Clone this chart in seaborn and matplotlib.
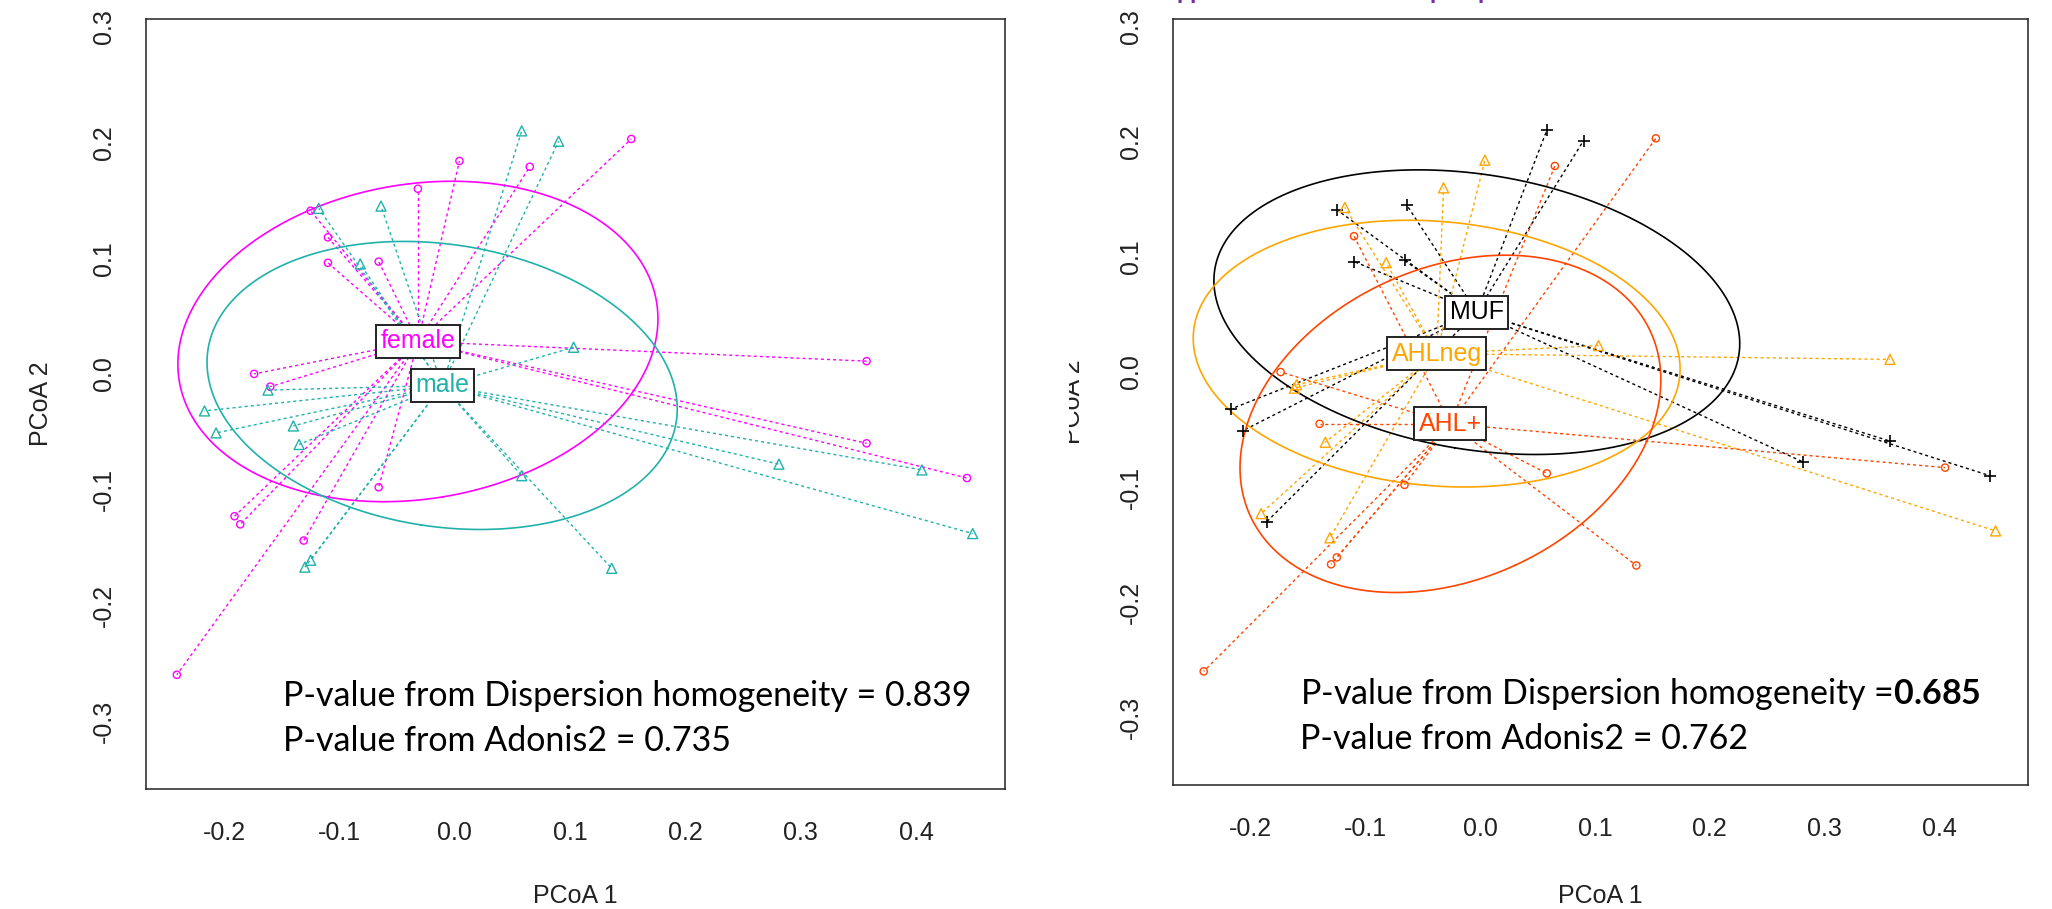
import matplotlib
matplotlib.use('Agg')
import matplotlib.pyplot as plt
from matplotlib.patches import Rectangle
import numpy as np
import pandas as pd
import seaborn as sns

# PCoA site scores (36 samples)
pcoa1 = [0.153, 0.004, 0.065, -0.032, -0.125, -0.110, -0.110, -0.066, -0.174,
         -0.160, 0.357, 0.357, 0.444, -0.066, -0.191, -0.186, -0.131, -0.241,
         0.058, 0.090, -0.118, -0.064, -0.082, 0.103, -0.162, -0.217, -0.207,
         -0.140, -0.135, 0.058, 0.281, 0.405, 0.449, -0.125, -0.130, 0.136]
pcoa2 = [0.203, 0.184, 0.179, 0.160, 0.141, 0.118, 0.096, 0.097, 0.000,
         -0.011, 0.011, -0.060, -0.090, -0.098, -0.123, -0.130, -0.144, -0.260,
         0.210, 0.201, 0.143, 0.145, 0.095, 0.023, -0.014, -0.032, -0.051,
         -0.045, -0.061, -0.088, -0.078, -0.083, -0.138, -0.161, -0.167, -0.168]
sex = ['female'] * 18 + ['male'] * 18
group = ['AHL+', 'AHLneg', 'AHL+', 'AHLneg', 'MUF', 'AHL+', 'MUF', 'MUF', 'AHL+',
         'AHLneg', 'AHLneg', 'MUF', 'MUF', 'AHL+', 'AHLneg', 'MUF', 'AHLneg', 'AHL+',
         'MUF', 'MUF', 'AHLneg', 'MUF', 'AHLneg', 'AHLneg', 'AHLneg', 'MUF', 'MUF',
         'AHL+', 'AHLneg', 'AHL+', 'MUF', 'AHL+', 'AHLneg', 'AHL+', 'AHL+', 'AHL+']

# group centroids (spatial medians from betadisper)
sex_levels = ['female', 'male']
sex_cent_x = [-0.032, -0.011]
sex_cent_y = [0.028, -0.010]
group_levels = ['MUF', 'AHLneg', 'AHL+']
group_cent_x = [-0.003, -0.038, -0.026]
group_cent_y = [0.052, 0.016, -0.045]

xticks = [-0.2, -0.1, 0.0, 0.1, 0.2, 0.3, 0.4]
yticks = [-0.3, -0.2, -0.1, 0.0, 0.1, 0.2, 0.3]

sex_pvals = ['P-value from Dispersion homogeneity = 0.839',
             'P-value from Adonis2 = 0.735']
group_pvals = [r'P-value from Dispersion homogeneity =$\mathbf{0.685}$',
               'P-value from Adonis2 = 0.762']

df = pd.DataFrame({'PCoA1': pcoa1, 'PCoA2': pcoa2, 'sex': sex, 'group': group})

sns.set_style('white')
plt.rcParams['font.family'] = ['Liberation Sans', 'DejaVu Sans']
plt.rcParams['mathtext.fontset'] = 'custom'
plt.rcParams['mathtext.rm'] = 'Lato'
plt.rcParams['mathtext.bf'] = 'Lato:bold'

W, H = 2052, 909
fig = plt.figure(figsize=(W / 100, H / 100), dpi=100)
fig.patch.set_facecolor('white')
ax1 = fig.add_axes([145.7 / W, 1 - 789 / H, (1005 - 145.7) / W, (789 - 19.3) / H])
ax2 = fig.add_axes([1172.7 / W, 1 - 785 / H, (2027.7 - 1172.7) / W, (785 - 19.3) / H])


def betadisper_panel(ax, col, levels, cx_list, cy_list, colours, markers, sizes):
    for lev, cx, cy in zip(levels, cx_list, cy_list):
        sub = df[df[col] == lev]
        c = colours[lev]
        for x, y in zip(sub.PCoA1, sub.PCoA2):
            ax.plot([cx, x], [cy, y], color=c, lw=1.0, ls=(0, (2.2, 2.2)), zorder=1)
        # standard deviation ellipse around the centroid
        d = sub[['PCoA1', 'PCoA2']].values - np.array([cx, cy])
        cov = d.T @ d / (len(d) - 1)
        w, v = np.linalg.eigh(cov)
        t = np.linspace(0, 2 * np.pi, 201)
        circ = np.column_stack([np.cos(t), np.sin(t)])
        ell = circ @ (v * np.sqrt(w)).T + np.array([cx, cy])
        ax.plot(ell[:, 0], ell[:, 1], color=c, lw=1.2, zorder=2)
    for lev in levels:
        sub = df[df[col] == lev]
        c = colours[lev]
        m = markers[lev]
        if m == '+':
            sns.scatterplot(data=sub, x='PCoA1', y='PCoA2', marker=m, color=c,
                            s=sizes[lev], linewidth=1.2, ax=ax, zorder=3)
        else:
            sns.scatterplot(data=sub, x='PCoA1', y='PCoA2', marker=m, color=c,
                            facecolor='none', edgecolor=c, s=sizes[lev],
                            linewidth=1.0, ax=ax, zorder=3)
    for lev, cx, cy in zip(levels, cx_list, cy_list):
        ax.text(cx, cy, lev, color=colours[lev], ha='center', va='center',
                fontsize=18, zorder=5,
                bbox=dict(boxstyle='square,pad=0.18', fc='white', ec='#222222', lw=1.4))

    ax.set_xlim(-0.268, 0.477)
    ax.set_ylim(-0.3587, 0.3064)
    ax.set_xticks(xticks, [f'{v:.1f}' for v in xticks])
    ax.set_yticks(yticks, [f'{v:.1f}' for v in yticks], rotation=90, va='center')
    ax.tick_params(axis='both', direction='out', length=10.8, width=1.1,
                   colors='#222222', labelsize=18, labelcolor='#222222')
    ax.tick_params(axis='x', pad=12)
    ax.tick_params(axis='y', pad=10.5)
    for sp in ax.spines.values():
        sp.set_color('#222222')
        sp.set_linewidth(1.1)
    ax.set_xlabel('PCoA 1', fontsize=18, color='#222222', va='center')
    ax.set_ylabel('PCoA 2', fontsize=18, color='#222222', va='center')


betadisper_panel(ax1, 'sex', sex_levels, sex_cent_x, sex_cent_y,
                 {'female': '#FF00FF', 'male': '#20B2AA'},
                 {'female': 'o', 'male': '^'},
                 {'female': 27, 'male': 52})
betadisper_panel(ax2, 'group', group_levels, group_cent_x, group_cent_y,
                 {'MUF': 'black', 'AHLneg': '#FFA500', 'AHL+': '#FF4500'},
                 {'MUF': '+', 'AHLneg': '^', 'AHL+': 'o'},
                 {'MUF': 80, 'AHLneg': 52, 'AHL+': 27})

ax1.xaxis.set_label_coords(0.5, -(896 - 789) / (789 - 19.3))
ax1.yaxis.set_label_coords(-(145.7 - 41) / (1005 - 145.7), 0.5)
ax2.xaxis.set_label_coords(0.5, -(896 - 785) / (785 - 19.3))
ax2.yaxis.set_label_coords(-(1172.7 - 1073) / (2027.7 - 1172.7), 0.5)

# p-value annotations
for i, line in enumerate(sex_pvals):
    fig.text(283 / W, 1 - (706 + 45 * i) / H, line, family='Lato', fontsize=24.5,
             color='black', va='baseline', ha='left')
for i, line in enumerate(group_pvals):
    fig.text(1300 / W, 1 - (704 + 45 * i) / H, line, family='Lato', fontsize=24.5,
             color='black', va='baseline', ha='left')

# white strip of the pasted left image hiding part of the right y label
fig.patches.append(Rectangle((1010 / W, 0), (1068.5 - 1010) / W, 1,
                             transform=fig.transFigure, fc='white', ec='none', zorder=1))

# cropped purple heading above the right panel (only descenders visible)
for xp, s in [(1191, 'pp'), (1437, 'p'), (1485, 'p')]:
    fig.text(xp / W, 1 + 0.5 / H, s, family='Lato', fontsize=18, fontweight='bold',
             color='#7030A0', va='baseline', ha='center')

plt.savefig('out.png', dpi=100, facecolor='white')
plt.close()
